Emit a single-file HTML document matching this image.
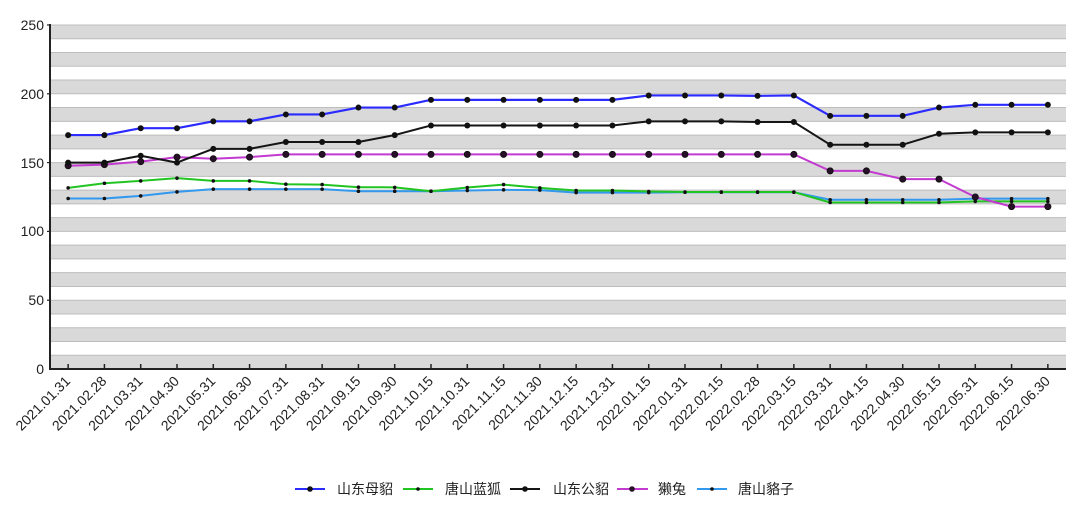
<!DOCTYPE html>
<html><head><meta charset="utf-8"><style>
html,body{margin:0;padding:0;background:#fff;}
svg{display:block;}
text{font-family:"Liberation Sans","Noto Sans CJK SC",sans-serif;fill:#222;}
</style></head><body>
<svg width="1080" height="527" viewBox="0 0 1080 527" xmlns="http://www.w3.org/2000/svg">
<defs>
<marker id="mb" markerUnits="userSpaceOnUse" markerWidth="8" markerHeight="8" refX="4" refY="4"><circle cx="4" cy="4" r="3" fill="#111"/></marker>
<marker id="mm" markerUnits="userSpaceOnUse" markerWidth="8" markerHeight="8" refX="4" refY="4"><circle cx="4" cy="4" r="3" fill="#2a0f2a" stroke="#111" stroke-width="1"/></marker>
<marker id="ms" markerUnits="userSpaceOnUse" markerWidth="6" markerHeight="6" refX="3" refY="3"><circle cx="3" cy="3" r="1.8" fill="#111"/></marker>
</defs>
<g fill="#d9d9d9">
<rect x="50" y="355.24" width="1016" height="13.76"/>
<rect x="50" y="327.72" width="1016" height="13.76"/>
<rect x="50" y="300.2" width="1016" height="13.76"/>
<rect x="50" y="272.68" width="1016" height="13.76"/>
<rect x="50" y="245.16" width="1016" height="13.76"/>
<rect x="50" y="217.64" width="1016" height="13.76"/>
<rect x="50" y="190.12" width="1016" height="13.76"/>
<rect x="50" y="162.6" width="1016" height="13.76"/>
<rect x="50" y="135.08" width="1016" height="13.76"/>
<rect x="50" y="107.56" width="1016" height="13.76"/>
<rect x="50" y="80.04" width="1016" height="13.76"/>
<rect x="50" y="52.52" width="1016" height="13.76"/>
<rect x="50" y="25" width="1016" height="13.76"/>
</g>
<g stroke="#bdbdbd" stroke-width="1">
<line x1="50" x2="1066" y1="355.24" y2="355.24"/><line x1="50" x2="1066" y1="341.48" y2="341.48"/>
<line x1="50" x2="1066" y1="327.72" y2="327.72"/><line x1="50" x2="1066" y1="313.96" y2="313.96"/>
<line x1="50" x2="1066" y1="300.2" y2="300.2"/><line x1="50" x2="1066" y1="286.44" y2="286.44"/>
<line x1="50" x2="1066" y1="272.68" y2="272.68"/><line x1="50" x2="1066" y1="258.92" y2="258.92"/>
<line x1="50" x2="1066" y1="245.16" y2="245.16"/><line x1="50" x2="1066" y1="231.4" y2="231.4"/>
<line x1="50" x2="1066" y1="217.64" y2="217.64"/><line x1="50" x2="1066" y1="203.88" y2="203.88"/>
<line x1="50" x2="1066" y1="190.12" y2="190.12"/><line x1="50" x2="1066" y1="176.36" y2="176.36"/>
<line x1="50" x2="1066" y1="162.6" y2="162.6"/><line x1="50" x2="1066" y1="148.84" y2="148.84"/>
<line x1="50" x2="1066" y1="135.08" y2="135.08"/><line x1="50" x2="1066" y1="121.32" y2="121.32"/>
<line x1="50" x2="1066" y1="107.56" y2="107.56"/><line x1="50" x2="1066" y1="93.8" y2="93.8"/>
<line x1="50" x2="1066" y1="80.04" y2="80.04"/><line x1="50" x2="1066" y1="66.28" y2="66.28"/>
<line x1="50" x2="1066" y1="52.52" y2="52.52"/><line x1="50" x2="1066" y1="38.76" y2="38.76"/>
<line x1="50" x2="1066" y1="25" y2="25"/>
</g>
<!-- axes -->
<line x1="50" y1="24" x2="50" y2="370" stroke="#222" stroke-width="2"/>
<line x1="49" y1="369" x2="1066" y2="369" stroke="#222" stroke-width="2"/>
<g stroke="#222" stroke-width="1.2">
<line x1="47" x2="50" y1="25" y2="25"/><line x1="47" x2="50" y1="93.8" y2="93.8"/><line x1="47" x2="50" y1="162.6" y2="162.6"/>
<line x1="47" x2="50" y1="231.4" y2="231.4"/><line x1="47" x2="50" y1="300.2" y2="300.2"/>
</g>
<g stroke="#222" stroke-width="1.5">
<line x1="68.14" x2="68.14" y1="364" y2="369"/><line x1="104.43" x2="104.43" y1="364" y2="369"/><line x1="140.71" x2="140.71" y1="364" y2="369"/><line x1="177" x2="177" y1="364" y2="369"/>
<line x1="213.29" x2="213.29" y1="364" y2="369"/><line x1="249.57" x2="249.57" y1="364" y2="369"/><line x1="285.86" x2="285.86" y1="364" y2="369"/><line x1="322.14" x2="322.14" y1="364" y2="369"/>
<line x1="358.43" x2="358.43" y1="364" y2="369"/><line x1="394.71" x2="394.71" y1="364" y2="369"/><line x1="431" x2="431" y1="364" y2="369"/><line x1="467.29" x2="467.29" y1="364" y2="369"/>
<line x1="503.57" x2="503.57" y1="364" y2="369"/><line x1="539.86" x2="539.86" y1="364" y2="369"/><line x1="576.14" x2="576.14" y1="364" y2="369"/><line x1="612.43" x2="612.43" y1="364" y2="369"/>
<line x1="648.71" x2="648.71" y1="364" y2="369"/><line x1="685" x2="685" y1="364" y2="369"/><line x1="721.29" x2="721.29" y1="364" y2="369"/><line x1="757.57" x2="757.57" y1="364" y2="369"/>
<line x1="793.86" x2="793.86" y1="364" y2="369"/><line x1="830.14" x2="830.14" y1="364" y2="369"/><line x1="866.43" x2="866.43" y1="364" y2="369"/><line x1="902.71" x2="902.71" y1="364" y2="369"/>
<line x1="939" x2="939" y1="364" y2="369"/><line x1="975.29" x2="975.29" y1="364" y2="369"/><line x1="1011.57" x2="1011.57" y1="364" y2="369"/><line x1="1047.86" x2="1047.86" y1="364" y2="369"/>
</g>
<!-- y labels -->
<g font-size="14" text-anchor="end">
<text x="44" y="30">250</text>
<text x="44" y="99">200</text>
<text x="44" y="168">150</text>
<text x="44" y="236">100</text>
<text x="44" y="305">50</text>
<text x="44" y="374">0</text>
</g>
<!-- x labels -->
<g font-size="14" text-anchor="end">
<text x="71.1" y="382" transform="rotate(-45 71.1 382)">2021.01.31</text>
<text x="107.4" y="382" transform="rotate(-45 107.4 382)">2021.02.28</text>
<text x="143.7" y="382" transform="rotate(-45 143.7 382)">2021.03.31</text>
<text x="180" y="382" transform="rotate(-45 180 382)">2021.04.30</text>
<text x="216.3" y="382" transform="rotate(-45 216.3 382)">2021.05.31</text>
<text x="252.6" y="382" transform="rotate(-45 252.6 382)">2021.06.30</text>
<text x="288.9" y="382" transform="rotate(-45 288.9 382)">2021.07.31</text>
<text x="325.1" y="382" transform="rotate(-45 325.1 382)">2021.08.31</text>
<text x="361.4" y="382" transform="rotate(-45 361.4 382)">2021.09.15</text>
<text x="397.7" y="382" transform="rotate(-45 397.7 382)">2021.09.30</text>
<text x="434" y="382" transform="rotate(-45 434 382)">2021.10.15</text>
<text x="470.3" y="382" transform="rotate(-45 470.3 382)">2021.10.31</text>
<text x="506.6" y="382" transform="rotate(-45 506.6 382)">2021.11.15</text>
<text x="542.9" y="382" transform="rotate(-45 542.9 382)">2021.11.30</text>
<text x="579.1" y="382" transform="rotate(-45 579.1 382)">2021.12.15</text>
<text x="615.4" y="382" transform="rotate(-45 615.4 382)">2021.12.31</text>
<text x="651.7" y="382" transform="rotate(-45 651.7 382)">2022.01.15</text>
<text x="688" y="382" transform="rotate(-45 688 382)">2022.01.31</text>
<text x="724.3" y="382" transform="rotate(-45 724.3 382)">2022.02.15</text>
<text x="760.6" y="382" transform="rotate(-45 760.6 382)">2022.02.28</text>
<text x="796.9" y="382" transform="rotate(-45 796.9 382)">2022.03.15</text>
<text x="833.1" y="382" transform="rotate(-45 833.1 382)">2022.03.31</text>
<text x="869.4" y="382" transform="rotate(-45 869.4 382)">2022.04.15</text>
<text x="905.7" y="382" transform="rotate(-45 905.7 382)">2022.04.30</text>
<text x="942" y="382" transform="rotate(-45 942 382)">2022.05.15</text>
<text x="978.3" y="382" transform="rotate(-45 978.3 382)">2022.05.31</text>
<text x="1014.6" y="382" transform="rotate(-45 1014.6 382)">2022.06.15</text>
<text x="1050.9" y="382" transform="rotate(-45 1050.9 382)">2022.06.30</text>
</g>
<!-- series -->
<g fill="none" stroke-linejoin="round">
<polyline stroke="#3399ee" stroke-width="2" marker-start="url(#ms)" marker-mid="url(#ms)" marker-end="url(#ms)" points="68.14,198.51 104.43,198.51 140.71,195.9 177,191.9 213.29,189.16 249.57,189.16 285.86,189.16 322.14,189.16 358.43,191.22 394.71,191.22 431,191.22 467.29,190.53 503.57,189.85 539.86,190.1 576.14,192.6 612.43,192.6 648.71,192.6 685,192.2 721.29,192.2 757.57,192.2 793.86,192.2 830.14,199.75 866.43,199.75 902.71,199.75 939,199.75 975.29,198.65 1011.57,198.65 1047.86,198.65"/>
<polyline stroke="#22c422" stroke-width="2" marker-start="url(#ms)" marker-mid="url(#ms)" marker-end="url(#ms)" points="68.14,187.92 104.43,183.24 140.71,180.9 177,178.15 213.29,180.9 249.57,180.9 285.86,184.2 322.14,184.6 358.43,187.2 394.71,187.37 431,191.22 467.29,187.5 503.57,184.6 539.86,187.92 576.14,190.53 612.43,190.53 648.71,191.5 685,192.05 721.29,192.05 757.57,192.05 793.86,192.05 830.14,202.5 866.43,202.5 902.71,202.5 939,202.5 975.29,201.4 1011.57,201.4 1047.86,201.4"/>
<polyline stroke="#c23ad0" stroke-width="2" marker-start="url(#mm)" marker-mid="url(#mm)" marker-end="url(#mm)" points="68.14,165.76 104.43,164.66 140.71,161.6 177,157.1 213.29,158.7 249.57,157.1 285.86,154.34 322.14,154.34 358.43,154.34 394.71,154.34 431,154.34 467.29,154.34 503.57,154.34 539.86,154.34 576.14,154.34 612.43,154.34 648.71,154.34 685,154.34 721.29,154.34 757.57,154.34 793.86,154.34 830.14,170.86 866.43,170.86 902.71,179.11 939,179.11 975.29,197 1011.57,206.63 1047.86,206.63"/>
<polyline stroke="#151515" stroke-width="2" marker-start="url(#mb)" marker-mid="url(#mb)" marker-end="url(#mb)" points="68.14,162.6 104.43,162.6 140.71,155.72 177,162.6 213.29,148.84 249.57,148.84 285.86,141.96 322.14,141.96 358.43,141.96 394.71,135.08 431,125.45 467.29,125.45 503.57,125.45 539.86,125.45 576.14,125.45 612.43,125.45 648.71,121.32 685,121.32 721.29,121.32 757.57,122 793.86,122 830.14,144.71 866.43,144.71 902.71,144.71 939,133.7 975.29,132.33 1011.57,132.33 1047.86,132.33"/>
<polyline stroke="#2b2bff" stroke-width="2.2" marker-start="url(#mb)" marker-mid="url(#mb)" marker-end="url(#mb)" points="68.14,135.08 104.43,135.08 140.71,128.2 177,128.2 213.29,121.32 249.57,121.32 285.86,114.44 322.14,114.44 358.43,107.56 394.71,107.56 431,99.85 467.29,99.85 503.57,99.85 539.86,99.85 576.14,99.85 612.43,99.85 648.71,95.45 685,95.45 721.29,95.45 757.57,95.86 793.86,95.45 830.14,115.82 866.43,115.82 902.71,115.82 939,107.56 975.29,104.81 1011.57,104.81 1047.86,104.81"/>
</g>
<!-- legend -->
<g stroke-width="2">
<line x1="295" x2="325" y1="489" y2="489" stroke="#2b2bff"/><circle cx="310" cy="489" r="2.8" fill="#111" stroke="none"/>
<line x1="403" x2="433" y1="489" y2="489" stroke="#22c422"/><circle cx="418" cy="489" r="1.8" fill="#111" stroke="none"/>
<line x1="510" x2="540" y1="489" y2="489" stroke="#151515"/><circle cx="525" cy="489" r="2.8" fill="#111" stroke="none"/>
<line x1="617" x2="648" y1="489" y2="489" stroke="#c23ad0"/><circle cx="632" cy="489" r="2.8" fill="#2a0f2a" stroke="none"/>
<line x1="697" x2="727" y1="489" y2="489" stroke="#3399ee"/><circle cx="712" cy="489" r="1.8" fill="#111" stroke="none"/>
</g>
<g font-size="14" fill="#333">
<text x="337" y="494">山东母貂</text>
<text x="445" y="494">唐山蓝狐</text>
<text x="553" y="494">山东公貂</text>
<text x="658" y="494">獭兔</text>
<text x="738" y="494">唐山貉子</text>
</g>
</svg>
</body></html>
